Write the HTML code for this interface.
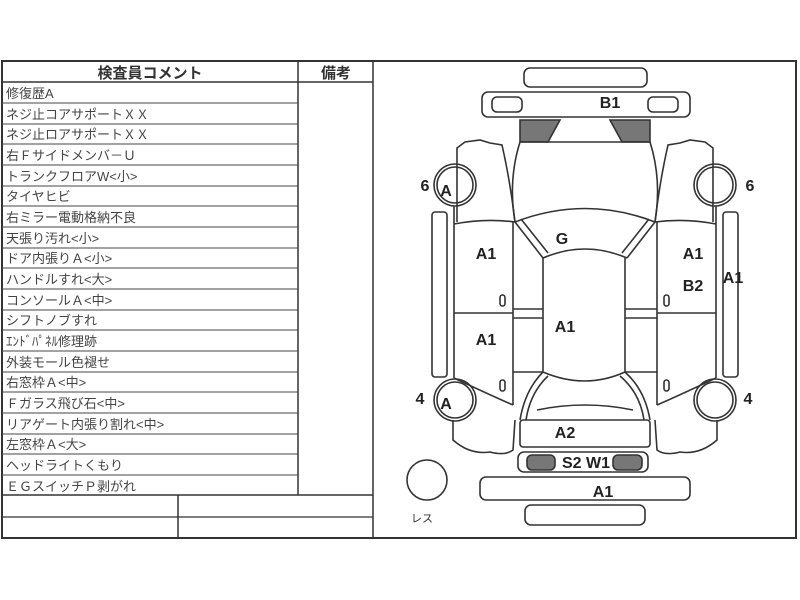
<!DOCTYPE html>
<html><head><meta charset="utf-8"><style>
body{margin:0;background:#fff;width:800px;height:600px;overflow:hidden;position:relative;font-family:"Liberation Sans","Noto Sans CJK JP",sans-serif;}
svg{position:absolute;left:0;top:0}
</style></head><body>
<svg width="800" height="600" viewBox="0 0 800 600" font-family="Liberation Sans, Noto Sans CJK JP, sans-serif">
<g stroke="#333" fill="none">
<rect x="2" y="61" width="794" height="477" stroke-width="2"/>
<line x1="2" y1="82" x2="373" y2="82" stroke-width="1.5"/>
<line x1="298" y1="61" x2="298" y2="495" stroke-width="1.5"/>
<line x1="373" y1="61" x2="373" y2="538" stroke-width="1.5"/>
<line x1="2" y1="495" x2="373" y2="495" stroke-width="1.5"/>
<line x1="2" y1="517" x2="373" y2="517" stroke-width="1.2"/>
<line x1="178" y1="495" x2="178" y2="538" stroke-width="1.5"/>
</g>
<g stroke="#444" stroke-width="1">
<line x1="2" y1="103" x2="298" y2="103"/><line x1="2" y1="124" x2="298" y2="124"/>
<line x1="2" y1="144" x2="298" y2="144"/><line x1="2" y1="165" x2="298" y2="165"/>
<line x1="2" y1="186" x2="298" y2="186"/><line x1="2" y1="206" x2="298" y2="206"/>
<line x1="2" y1="227" x2="298" y2="227"/><line x1="2" y1="248" x2="298" y2="248"/>
<line x1="2" y1="268" x2="298" y2="268"/><line x1="2" y1="289" x2="298" y2="289"/>
<line x1="2" y1="310" x2="298" y2="310"/><line x1="2" y1="330" x2="298" y2="330"/>
<line x1="2" y1="351" x2="298" y2="351"/><line x1="2" y1="372" x2="298" y2="372"/>
<line x1="2" y1="392" x2="298" y2="392"/><line x1="2" y1="413" x2="298" y2="413"/>
<line x1="2" y1="434" x2="298" y2="434"/><line x1="2" y1="454" x2="298" y2="454"/>
<line x1="2" y1="475" x2="298" y2="475"/>
</g>
<g font-size="15" font-weight="bold" fill="#333" text-anchor="middle">
<text x="150" y="78">検査員コメント</text><text x="336" y="78">備考</text>
</g>
<g font-size="13" fill="#444">
<text x="6" y="98">修復歴A</text>
<text x="6" y="119">ネジ止コアサポートＸＸ</text>
<text x="6" y="139">ネジ止ロアサポートＸＸ</text>
<text x="6" y="160">右Ｆサイドメンバ－Ｕ</text>
<text x="6" y="181">トランクフロアW&lt;小&gt;</text>
<text x="6" y="201">タイヤヒビ</text>
<text x="6" y="222">右ミラー電動格納不良</text>
<text x="6" y="243">天張り汚れ&lt;小&gt;</text>
<text x="6" y="263">ドア内張りＡ&lt;小&gt;</text>
<text x="6" y="284">ハンドルすれ&lt;大&gt;</text>
<text x="6" y="305">コンソールＡ&lt;中&gt;</text>
<text x="6" y="325">シフトノブすれ</text>
<text x="6" y="346">ｴﾝﾄﾞﾊﾟﾈﾙ修理跡</text>
<text x="6" y="367">外装モール色褪せ</text>
<text x="6" y="387">右窓枠Ａ&lt;中&gt;</text>
<text x="6" y="408">Ｆガラス飛び石&lt;中&gt;</text>
<text x="6" y="429">リアゲート内張り割れ&lt;中&gt;</text>
<text x="6" y="449">左窓枠Ａ&lt;大&gt;</text>
<text x="6" y="470">ヘッドライトくもり</text>
<text x="6" y="491">ＥＧスイッチＰ剥がれ</text>
</g>
<g stroke="#333" stroke-width="1.6" fill="none">
<rect x="524" y="68" width="123" height="19" rx="6"/>
<rect x="482" y="92" width="208" height="25" rx="6"/>
<rect x="492" y="97" width="30" height="15" rx="5"/>
<rect x="648" y="97" width="30" height="15" rx="5"/>
<path d="M520 120 L560 120 L548 142 L520 142 Z" fill="#777"/>
<path d="M610 120 L650 120 L650 142 L622 142 Z" fill="#777"/>
<path d="M520 142 L650 142"/>
<path d="M520 142 Q508 180 515 222"/><path d="M650 142 Q662 180 655 222"/>
<path d="M457 222 L457 148 L465 142 L480 140 L490 143 L502 145 Q510 180 515 222"/>
<path d="M713 222 L713 148 L705 142 L690 140 L680 143 L668 145 Q660 180 655 222"/>
<circle cx="455" cy="185" r="18"/><circle cx="455" cy="185" r="21"/>
<circle cx="715" cy="185" r="18"/><circle cx="715" cy="185" r="21"/>
<rect x="432" y="212" width="15" height="165" rx="3"/>
<rect x="723" y="212" width="15" height="165" rx="3"/>
<line x1="454" y1="206" x2="454" y2="378"/><line x1="716" y1="206" x2="716" y2="378"/>
<path d="M454 224 Q485 218 515 222"/><path d="M716 224 Q685 218 655 222"/>
<line x1="513" y1="222" x2="513" y2="405"/><line x1="657" y1="222" x2="657" y2="405"/>
<line x1="454" y1="313" x2="513" y2="313"/><line x1="657" y1="313" x2="716" y2="313"/>
<line x1="513" y1="309" x2="543" y2="309"/><line x1="513" y1="318" x2="543" y2="318"/>
<line x1="625" y1="309" x2="657" y2="309"/><line x1="625" y1="318" x2="657" y2="318"/>
<line x1="513" y1="372" x2="543" y2="372"/><line x1="625" y1="372" x2="657" y2="372"/>
<path d="M515 222 Q585 195 655 222"/>
<path d="M543 258 Q585 240 627 258"/>
<path d="M515 222 L543 258 M521 219 L548 253"/><path d="M655 222 L627 258 M649 219 L622 253"/>
<path d="M543 258 L543 372 Q585 390 625 372 L625 258"/>
<path d="M543 372 Q525 390 520 420 M548 376 Q530 393 526 420"/>
<path d="M625 372 Q645 390 650 420 M620 376 Q640 393 644 420"/>
<path d="M537 410 Q585 400 633 410"/>
<path d="M454 378 Q490 395 513 405"/><path d="M716 378 Q680 395 657 405"/>
<circle cx="455" cy="400" r="18"/><circle cx="455" cy="400" r="21"/>
<circle cx="715" cy="400" r="18"/><circle cx="715" cy="400" r="21"/>
<path d="M453 420 L453 440 Q470 455 490 452 Q505 456 513 450 L515 420"/>
<path d="M717 420 L717 440 Q700 455 680 452 Q665 456 657 450 L655 420"/>
<rect x="520" y="420" width="130" height="27" rx="3"/>
<rect x="518" y="452" width="130" height="20" rx="6"/>
<rect x="527" y="455" width="28" height="15" rx="5" fill="#777"/>
<rect x="613" y="455" width="29" height="15" rx="5" fill="#777"/>
<rect x="480" y="477" width="210" height="23" rx="6"/>
<rect x="525" y="505" width="120" height="20" rx="6"/>
<circle cx="427" cy="480" r="20"/>
<rect x="500" y="295" width="5" height="11" rx="2.5"/>
<rect x="500" y="380" width="5" height="11" rx="2.5"/>
<rect x="664" y="295" width="5" height="11" rx="2.5"/>
<rect x="664" y="380" width="5" height="11" rx="2.5"/>
</g>
<g font-size="16" font-weight="bold" fill="#222" text-anchor="middle">
<text x="610" y="108">B1</text>
<text x="425" y="191">6</text><text x="446" y="196">A</text>
<text x="750" y="191">6</text>
<text x="486" y="259">A1</text><text x="486" y="345">A1</text>
<text x="562" y="244">G</text><text x="565" y="332">A1</text>
<text x="693" y="259">A1</text><text x="693" y="291">B2</text><text x="733" y="283">A1</text>
<text x="420" y="404">4</text><text x="446" y="409">A</text><text x="748" y="404">4</text>
<text x="565" y="438">A2</text><text x="586" y="468">S2 W1</text>
<text x="603" y="497">A1</text>
</g>
<text x="422" y="522" font-size="11" fill="#333" text-anchor="middle">レス</text>
</svg>
</body></html>
